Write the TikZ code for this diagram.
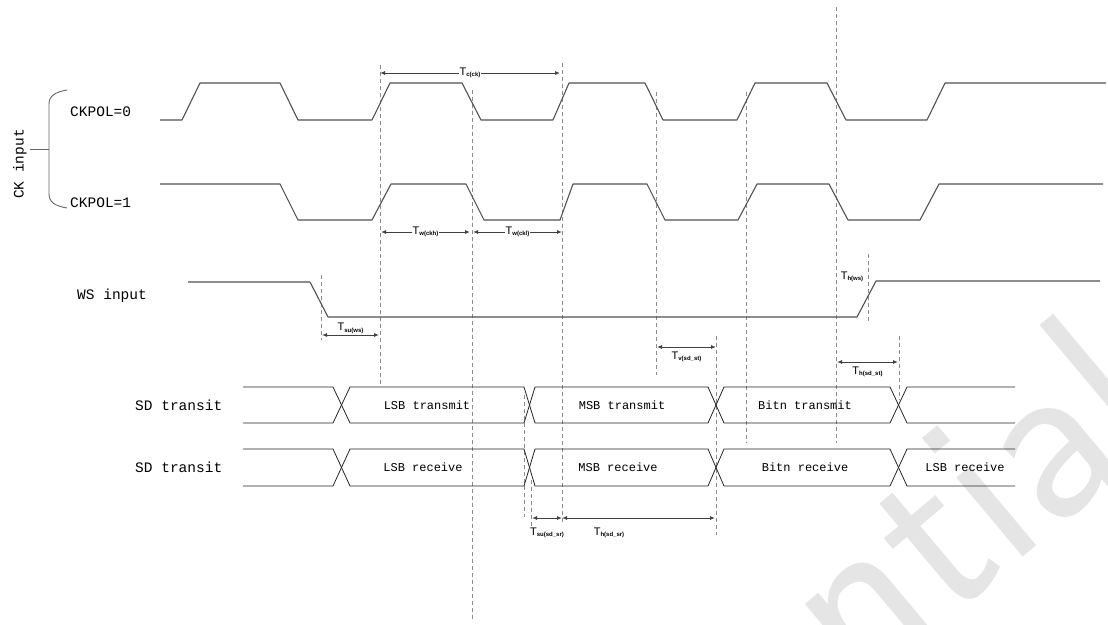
\documentclass[tikz,border=0pt]{standalone}
\usepackage{fontspec}
\setmainfont{Liberation Sans}
\newfontfamily\monof{Liberation Mono}
\usetikzlibrary{arrows.meta}
\newcommand{\tl}[1]{{\fontsize{11}{11}\selectfont T}{\fontsize{6}{6}\selectfont\bfseries\raisebox{-1.5pt}{#1}}}
\tikzset{
  wave/.style={draw=black!68, line width=1.1pt, line join=round},
  guide/.style={draw=black!45, dash pattern=on 4pt off 3pt, line width=0.6pt},
  bus/.style={draw=black!85, line width=0.8pt},
  dim/.style={draw=black!75, line width=0.9pt, {Latex[length=5pt,width=4pt]}-{Latex[length=5pt,width=4pt]}},
  siglab/.style={font=\monof\fontsize{14.5}{15}\selectfont, anchor=west, inner sep=0pt},
  buslab/.style={font=\monof\fontsize{12}{12}\selectfont, inner sep=0pt},
  tlab/.style={inner sep=1pt, fill=white},
  wmark/.style={text=black!10, font=\sffamily\fontsize{240}{240}\selectfont, inner sep=0pt}
}
\begin{document}
\begin{tikzpicture}[x=1pt,y=-1pt]
\useasboundingbox (0,0) rectangle (1108,624);
\clip (0,0) rectangle (1108,624);
% watermark
\node[wmark, rotate=40, anchor=base east] (wm) at (1175,430) {Confidential};

% brace and labels
\draw[draw=black!60, line width=0.9pt] (67,90) .. controls (55,92) and (49,96) .. (49,104) -- (49,194) .. controls (49,202) and (55,206) .. (67,208);
\coordinate (brmid) at (49,149);
\coordinate (brtick) at (30,149);
\draw[draw=black!60, line width=0.9pt] (brtick) -- (brmid);
\node[siglab, anchor=center, rotate=90] (ckin) at (20,164) {CK input};
\node[siglab] (pol0) at (70,112) {CKPOL=0};
\node[siglab] (pol1) at (70,203) {CKPOL=1};
\node[siglab] (wsin) at (77,296) {WS input};
\node[siglab] (sdt1) at (135,405) {SD transit};
\node[siglab] (sdt2) at (135,467) {SD transit};

% dashed guides
\draw[guide] (321,275) -- (321,340);
\draw[guide] (380,65) -- (380,385);
\draw[guide] (472,90) -- (472,620);
\draw[guide] (562,63) -- (562,522);
\draw[guide] (656,92) -- (656,375);
\draw[guide] (746,92) -- (746,443);
\draw[guide] (836,7) -- (836,443);
\draw[guide] (868,254) -- (868,323);
\draw[guide] (716,336) -- (716,535);
\draw[guide] (899,336) -- (899,400);
\draw[guide] (524,395) -- (524,517);
\draw[guide] (531,480) -- (531,527);

% clock waveforms
\draw[wave] (160,120) -- (182,120) -- (200,83) -- (280,83) -- (298,120) -- (372,120) -- (390,83) -- (462,83) -- (481,120) -- (553,120) -- (569,83) -- (645,83) -- (663,120) -- (737,120) -- (755,83) -- (827,83) -- (846,120) -- (927,120) -- (945,83) -- (1106,83);
\draw[wave] (160,184) -- (280,184) -- (298,220) -- (372,220) -- (391,184) -- (466,184) -- (484,220) -- (560,220) -- (573,184) -- (647,184) -- (665,220) -- (738,220) -- (757,184) -- (829,184) -- (848,220) -- (920,220) -- (939,184) -- (1103,184);
% WS
\draw[wave] (188,282) -- (310,282) -- (328,317) -- (857,317) -- (876,281) -- (1100,281);

% SD buses
\foreach \t/\b in {387/423, 449/486}{
  \draw[bus] (243,\t) -- (333,\t) -- (350,\b) -- (524,\b) -- (535,\t) -- (708,\t) -- (724,\b) -- (890,\b) -- (907,\t) -- (1015,\t);
  \draw[bus] (243,\b) -- (333,\b) -- (350,\t) -- (524,\t) -- (535,\b) -- (708,\b) -- (724,\t) -- (890,\t) -- (907,\b) -- (1015,\b);
}
\node[buslab] (b1) at (427,405) {LSB transmit};
\node[buslab] (b2) at (622,405) {MSB transmit};
\node[buslab] (b3) at (805,405) {Bitn transmit};
\node[buslab] (b4) at (423,467) {LSB receive};
\node[buslab] (b5) at (618,467) {MSB receive};
\node[buslab] (b6) at (805,467) {Bitn receive};
\node[buslab] (b7) at (965,467) {LSB receive};

% dimensions
\coordinate (tcA) at (380,73); \coordinate (tcB) at (560,73);
\draw[dim] (tcA) -- node[tlab] (tc) {\tl{c(ck)}} (tcB);
\coordinate (whA) at (381,232); \coordinate (whB) at (470,232);
\draw[dim] (whA) -- node[tlab] (twh) {\tl{w(ckh)}} (whB);
\coordinate (wlA) at (473,232); \coordinate (wlB) at (562,232);
\draw[dim] (wlA) -- node[tlab] (twl) {\tl{w(ckl)}} (wlB);
\coordinate (suA) at (322,335); \coordinate (suB) at (379,335);
\draw[dim] (suA) -- node[above=1pt, inner sep=0pt] (tsu) {\tl{su(ws)}} (suB);
\coordinate (vA) at (657,347); \coordinate (vB) at (716,347);
\draw[dim] (vA) -- node[below=4pt, inner sep=0pt] (tv) {\tl{v(sd\_st)}} (vB);
\coordinate (hA) at (837,362); \coordinate (hB) at (898,362);
\draw[dim] (hA) -- node[below=4pt, inner sep=0pt] (th) {\tl{h(sd\_st)}} (hB);
\node[inner sep=0pt] (thws) at (852,277) {\tl{h(ws)}};
\coordinate (srA) at (532,518); \coordinate (srM) at (562,518); \coordinate (srB) at (715,518);
\draw[dim] (srA) -- (srM);
\draw[dim] (srM) -- (srB);
\node[inner sep=0pt] (tsusr) at (547,533) {\tl{su(sd\_sr)}};
\node[inner sep=0pt] (thsr) at (609,533) {\tl{h(sd\_sr)}};
\end{tikzpicture}
\end{document}
